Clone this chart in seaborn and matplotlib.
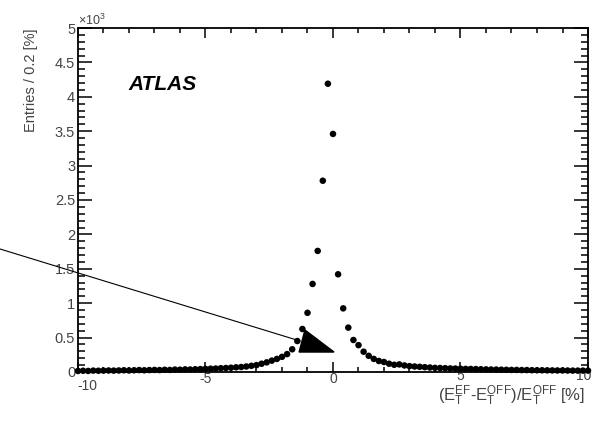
import numpy as np
import pandas as pd
import seaborn as sns
import matplotlib.pyplot as plt
from matplotlib.patches import Polygon
from matplotlib.ticker import MultipleLocator, FuncFormatter
from matplotlib.transforms import ScaledTranslation

# bin centres (width 0.2 %) and entries
bin_centres = np.round(np.arange(-10.0, 10.01, 0.2), 1)
entries = [
    15, 18, 15, 20, 18, 20, 22, 20, 22, 25,      # -10.0 .. -8.2
    22, 25, 28, 25, 28, 30, 28, 32, 30, 35,      # -8.0 .. -6.2
    33, 38, 36, 40, 42, 45, 48, 50, 55, 58,      # -6.0 .. -4.2
    62, 68, 72, 80, 90, 100, 120, 140, 165, 190,  # -4.0 .. -2.2
    220, 260, 330, 450, 625, 860, 1280, 1760, 2780, 4190,  # -2.0 .. -0.2
    3460,                                        # 0.0
    1420, 925, 645, 465, 390, 295, 235, 190, 160, 145,  # 0.2 .. 2.0
    120, 105, 110, 95, 85, 80, 75, 70, 65, 60,   # 2.2 .. 4.0
    58, 55, 52, 50, 48, 45, 44, 42, 40, 38,      # 4.2 .. 6.0
    36, 35, 33, 32, 30, 30, 28, 28, 26, 25,      # 6.2 .. 8.0
    25, 24, 23, 22, 22, 21, 20, 20, 20, 20,      # 8.2 .. 10.0
]
df = pd.DataFrame({'x': bin_centres, 'n': entries})

sns.set_style("ticks")
plt.rcParams['font.family'] = ['Liberation Sans', 'DejaVu Sans']
plt.rcParams['mathtext.default'] = 'regular'
plt.rcParams['axes.unicode_minus'] = False

fig = plt.figure(figsize=(5.94, 4.23), dpi=100)
ax = fig.add_axes([0.1313, 0.1206, 0.9899 - 0.1313, 0.9338 - 0.1206])

sns.scatterplot(data=df, x='x', y='n', ax=ax, color='black', s=22,
                edgecolor='none', clip_on=False, zorder=3)

ax.set_xlim(-10, 10)
ax.set_ylim(0, 5000)
ax.xaxis.set_major_locator(MultipleLocator(5))
ax.xaxis.set_minor_locator(MultipleLocator(1))
ax.yaxis.set_major_locator(MultipleLocator(500))
ax.yaxis.set_minor_locator(MultipleLocator(100))
ax.yaxis.set_major_formatter(FuncFormatter(lambda v, p: '{:g}'.format(v / 1000)))

for s in ax.spines.values():
    s.set_visible(True)
    s.set_linewidth(1.3)
    s.set_color('black')

ax.tick_params(axis='both', which='both', direction='in', top=True, right=True,
               color='black', width=1.1, labelsize=10.5, labelcolor='#444444')
ax.tick_params(axis='y', which='major', length=10, pad=2)
ax.tick_params(axis='y', which='minor', length=5)
ax.tick_params(axis='x', which='major', length=7, pad=0, labelsize=10)
ax.tick_params(axis='x', which='minor', length=3.6)

# ROOT-like nudges of the tick labels (the original is slightly skewed)
fig.canvas.draw()
for lab in ax.get_xticklabels():
    t = lab.get_text()
    if t == '-10':
        lab.set_ha('left')
        lab.set_transform(lab.get_transform() +
                          ScaledTranslation(-1 / 100, -7 / 100, fig.dpi_scale_trans))
    elif t == '5':
        lab.set_transform(lab.get_transform() +
                          ScaledTranslation(0, 3 / 100, fig.dpi_scale_trans))
    elif t == '10':
        lab.set_transform(lab.get_transform() +
                          ScaledTranslation(-4 / 100, 3 / 100, fig.dpi_scale_trans))

ax.set_xlabel(r'$(E_T^{EF}$-$E_T^{OFF})/E_T^{OFF}$ [%]', fontsize=12,
              color='#444444', ha='right', va='top')
ax.xaxis.set_label_coords(0.995, -0.033)
ax.set_ylabel('Entries / 0.2 [%]', loc='top', fontsize=10.5, color='#444444',
              labelpad=12)

ax.text(0.0, 1.0, r'$\times10^3$', transform=ax.transAxes, fontsize=9,
        color='#444444', ha='left', va='bottom')
ax.text(0.098, 0.82, 'ATLAS', transform=ax.transAxes, fontsize=15,
        fontweight='bold', fontstyle='italic', color='black', va='baseline')

# annotation arrow (drawn by hand on the original)
ax.plot([-13.06, -1.29], [1788, 450], color='black', lw=0.8, clip_on=False,
        zorder=4)
ax.add_patch(Polygon([[-1.10, 610], [-1.33, 290], [0.04, 290]], closed=True,
                     facecolor='black', edgecolor='black', zorder=5))

fig.savefig('out.png', dpi=100)
